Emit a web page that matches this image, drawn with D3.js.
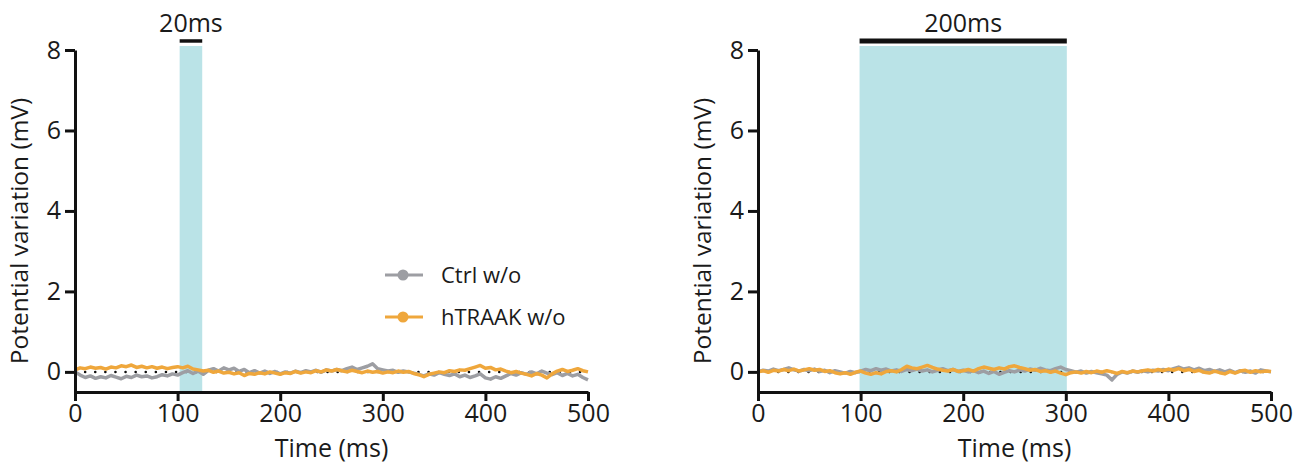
<!DOCTYPE html>
<html>
<head>
<meta charset="utf-8">
<script src="https://cdn.jsdelivr.net/npm/d3@7"></script>
<style>
  body { margin: 0; background: #fff; }
  svg text { font-family: "Open Sans", sans-serif; fill: #1a1a1a; }
</style>
</head>
<body>
<div id="vis"></div>
<script>
// GOAL: two voltage traces side by side, light stimulus shaded in blue
var w = 1307;
var h = 472;

// time grid (ms), one value every 5 ms
var time = d3.range(0, 501, 5);
var xTicks = [0, 100, 200, 300, 400, 500];
var yTicks = [0, 2, 4, 6, 8];
var seriesNames = ["Ctrl w/o", "hTRAAK w/o"];
var seriesColors = ["#9d9ea3", "#efa73c"];

// stimulus windows (ms) and their labels
var stimLeft = [102, 124];
var stimRight = [99, 301];
var stimLabels = ["20ms", "200ms"];

// left panel (20 ms light)
var ctrlLeft = [0, -0.08, -0.14, -0.10, -0.16, -0.12, -0.15, -0.09, -0.13, -0.17,
  -0.11, -0.14, -0.08, -0.12, -0.10, -0.15, -0.12, -0.07, -0.10, -0.05,
  -0.08, -0.02, 0.03, -0.04, 0.02, -0.06, 0.04, 0.08, 0.02, 0.10,
  0.05, 0.09, 0.01, 0.06, -0.02, 0.03, -0.03, 0.02, -0.04, 0.01,
  -0.05, 0.00, -0.03, 0.02, -0.02, 0.03, 0.00, 0.04, -0.01, 0.05,
  0.02, 0.06, 0.03, 0.08, 0.12, 0.06, 0.10, 0.14, 0.20, 0.08,
  0.05, 0.02, 0.04, -0.01, 0.02, 0.00, -0.03, -0.06, -0.10, -0.05,
  -0.08, -0.02, -0.06, -0.09, -0.05, -0.12, -0.08, -0.14, -0.10, -0.05,
  -0.15, -0.18, -0.12, -0.16, -0.10, -0.04, -0.08, -0.02, -0.06, 0.00,
  -0.05, 0.02, -0.03, -0.07, -0.02, -0.09, -0.04, -0.10, -0.06, -0.14, -0.20];
var traakLeft = [0.05, 0.10, 0.08, 0.12, 0.09, 0.11, 0.07, 0.12, 0.10, 0.15,
  0.13, 0.17, 0.11, 0.14, 0.10, 0.13, 0.09, 0.12, 0.08, 0.11,
  0.13, 0.10, 0.14, 0.07, 0.05, 0.02, 0.04, -0.01, 0.02, -0.03,
  -0.01, -0.05, -0.02, -0.09, -0.04, -0.06, -0.02, -0.05, 0.00, -0.03,
  -0.06, -0.02, -0.04, 0.01, -0.03, 0.00, -0.02, 0.03, 0.00, 0.05,
  0.02, 0.06, 0.03, 0.00, 0.04, 0.01, -0.02, 0.02, -0.01, 0.01,
  -0.03, 0.00, -0.02, 0.02, -0.01, 0.01, -0.04, -0.07, -0.12, -0.06,
  -0.03, 0.00, -0.02, 0.03, 0.01, 0.05, 0.04, 0.08, 0.12, 0.16,
  0.09, 0.11, 0.05, 0.07, 0.02, -0.02, 0.01, -0.03, -0.06, -0.10,
  -0.04, -0.08, -0.15, -0.05, 0.02, 0.06, 0.01, 0.04, 0.08, 0.03, 0.00];

// right panel (200 ms light)
var ctrlRight = [0.00, 0.04, 0.02, 0.07, 0.03, 0.06, 0.10, 0.05, 0.02, 0.06,
  0.03, 0.07, 0.01, 0.04, -0.02, 0.03, 0.00, -0.03, 0.01, -0.02,
  0.02, 0.06, 0.03, 0.08, 0.04, 0.07, 0.02, 0.05, 0.01, 0.06,
  0.03, 0.07, 0.02, 0.05, 0.00, 0.04, 0.08, 0.03, 0.06, 0.01,
  0.04, 0.00, 0.03, -0.02, 0.02, -0.04, 0.01, -0.06, -0.01, 0.03,
  0.00, 0.05, 0.02, 0.07, 0.04, 0.09, 0.05, 0.03, 0.08, 0.12,
  0.06, 0.03, -0.01, 0.02, -0.03, 0.01, -0.02, -0.05, -0.08, -0.20,
  -0.06, 0.00, -0.03, 0.02, -0.01, 0.03, 0.00, 0.04, 0.02, 0.06,
  0.03, 0.08, 0.12, 0.07, 0.10, 0.05, 0.09, 0.03, 0.06, 0.01,
  0.05, 0.00, 0.04, -0.02, 0.03, -0.01, 0.02, -0.03, 0.05, 0.02, 0.00];
var traakRight = [0.00, 0.03, -0.01, 0.04, 0.02, 0.06, 0.03, 0.07, 0.02, 0.05,
  0.08, 0.04, 0.06, 0.01, 0.03, -0.02, -0.05, -0.02, -0.06, -0.01,
  0.02, -0.03, -0.06, -0.02, -0.05, 0.01, 0.03, 0.00, 0.06, 0.14,
  0.10, 0.08, 0.12, 0.16, 0.11, 0.07, 0.04, 0.02, 0.06, 0.01,
  0.03, 0.06, 0.02, 0.08, 0.12, 0.09, 0.06, 0.10, 0.07, 0.13,
  0.15, 0.11, 0.08, 0.04, 0.06, 0.01, 0.03, -0.01, 0.02, -0.03,
  -0.07, -0.02, 0.00, -0.03, 0.01, -0.02, 0.02, -0.01, 0.03, 0.00,
  -0.04, 0.01, -0.02, 0.02, 0.00, 0.03, 0.05, 0.02, 0.06, 0.03,
  0.07, 0.04, 0.08, 0.03, 0.06, 0.01, 0.04, -0.01, -0.03, 0.02,
  -0.02, -0.05, 0.01, -0.03, 0.02, 0.04, -0.01, 0.03, 0.00, 0.02, 0.01];

var canvas = d3.select("#vis").append("svg").attr("width", w).attr("height", h);

var y = d3.scaleLinear().domain([-0.5, 8]).range([392, 50]);

function drawPanel(left, stim, label, barWidth, traces, withLegend) {
  var x = d3.scaleLinear().domain([0, 500]).range([left, left + 513]);
  var g = canvas.append("g");

  // light stimulus
  g.append("rect")
    .attr("x", x(stim[0]))
    .attr("y", y(8.1))
    .attr("width", x(stim[1]) - x(stim[0]))
    .attr("height", y(-0.5) - y(8.1))
    .attr("fill", "#bae3e7");
  g.append("line")
    .attr("x1", x(stim[0]))
    .attr("x2", x(stim[1]))
    .attr("y1", y(8.1) - 5)
    .attr("y2", y(8.1) - 5)
    .attr("stroke", "#111")
    .attr("stroke-width", barWidth);
  g.append("text")
    .attr("x", (x(stim[0]) + x(stim[1])) / 2)
    .attr("y", 32)
    .attr("text-anchor", "middle")
    .style("font-size", "25px")
    .text(label);

  // dotted zero line
  g.append("line")
    .attr("x1", x(0))
    .attr("x2", x(500))
    .attr("y1", y(0))
    .attr("y2", y(0))
    .attr("stroke", "#111")
    .attr("stroke-width", 2.5)
    .attr("stroke-linecap", "round")
    .attr("stroke-dasharray", "0.1 10");

  var line = d3.line()
    .x(function (d, i) { return x(time[i]); })
    .y(function (d) { return y(d); });

  traces.forEach(function (vals, k) {
    g.append("path")
      .datum(vals)
      .attr("d", line)
      .attr("fill", "none")
      .attr("stroke", seriesColors[k])
      .attr("stroke-width", 3.5)
      .attr("stroke-linejoin", "round");
  });

  // axes
  var xAxis = g.append("g")
    .attr("transform", "translate(0," + y(-0.5) + ")")
    .call(d3.axisBottom(x).tickValues(xTicks).tickSize(9).tickSizeOuter(0).tickPadding(3));
  var yAxis = g.append("g")
    .attr("transform", "translate(" + x(0) + ",0)")
    .call(d3.axisLeft(y).tickValues(yTicks).tickSize(10).tickSizeOuter(0).tickPadding(4));
  [xAxis, yAxis].forEach(function (a) {
    a.select(".domain").attr("stroke", "#111").attr("stroke-width", 3);
    a.selectAll(".tick line").attr("stroke", "#111").attr("stroke-width", 3);
    a.selectAll(".tick text")
      .style("font-family", "'Open Sans', sans-serif")
      .style("font-size", "25px")
      .attr("fill", "#1a1a1a");
  });

  g.append("text")
    .attr("x", (x(0) + x(500)) / 2)
    .attr("y", 457)
    .attr("text-anchor", "middle")
    .style("font-size", "25px")
    .text("Time (ms)");
  g.append("text")
    .attr("transform", "translate(" + (left - 47) + "," + y(3.5) + ") rotate(-90)")
    .attr("text-anchor", "middle")
    .style("font-size", "24.5px")
    .text("Potential variation (mV)");

  if (withLegend) {
    seriesNames.forEach(function (name, k) {
      var ly = 275 + k * 42;
      g.append("line")
        .attr("x1", 385).attr("x2", 423)
        .attr("y1", ly).attr("y2", ly)
        .attr("stroke", seriesColors[k]).attr("stroke-width", 3);
      g.append("circle")
        .attr("cx", 403).attr("cy", ly).attr("r", 5.5)
        .attr("fill", seriesColors[k]);
      g.append("text")
        .attr("x", 441).attr("y", ly + 8)
        .style("font-size", "22px")
        .text(name);
    });
  }
}

drawPanel(75, stimLeft, stimLabels[0], 3.5, [ctrlLeft, traakLeft], true);
drawPanel(758, stimRight, stimLabels[1], 5, [ctrlRight, traakRight], false);
</script>
</body>
</html>
